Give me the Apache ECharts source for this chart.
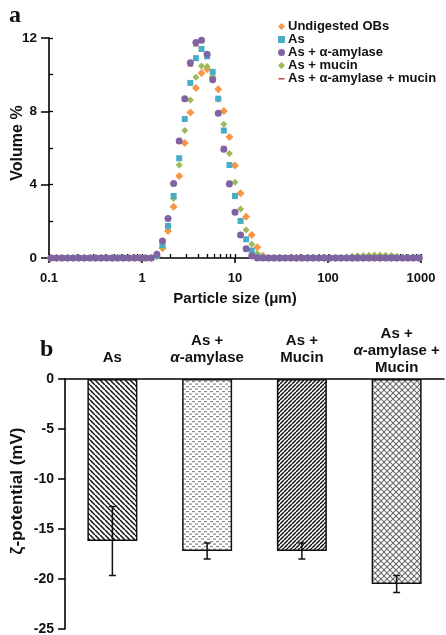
<!DOCTYPE html>
<html>
<head>
<meta charset="utf-8">
<script src="https://cdn.jsdelivr.net/npm/echarts@6/dist/echarts.min.js"></script>
<style>
html,body{margin:0;padding:0;background:#fff;}
#main{width:446px;height:635px;}
</style>
</head>
<body>
<div id="main"></div>
<script>
// ---------- Panel a: particle size distribution ----------
const sizes = [
  0.1047,0.1202,0.1380,0.1585,0.1820,0.2089,0.2399,0.2754,0.3162,0.3631,
  0.4169,0.4786,0.5495,0.6310,0.7244,0.8318,0.9550,1.096,1.259,
  1.445,1.660,1.905,2.188,2.512,2.884,3.311,3.802,4.365,5.012,
  5.754,6.607,7.586,8.710,10.00,11.48,13.18,15.14,17.38,19.95,
  22.91,26.30,30.20,34.67,39.81,45.71,52.48,60.26,69.18,79.43,
  91.20,104.7,120.2,138.0,158.5,182.0,208.9,239.9,275.4,316.2,
  363.1,416.9,478.6,549.5,631.0,724.4,831.8,955.0
];
const undigested = [
  0,0,0,0,0,0,0,0,0,0,
  0,0,0,0,0,0,0,0,0,
  0.1,0.53,1.47,2.8,4.47,6.27,7.93,9.27,10.09,10.3,
  9.85,9.2,8.02,6.6,5.05,3.53,2.25,1.25,0.58,0.12,
  0,0,0,0,0,0,0,0,0,0,
  0,0,0,0,0,0,0,0,0,0,
  0,0,0,0,0,0,0,0
];
const asOnly = [
  0,0,0,0,0,0,0,0,0,0,
  0,0,0,0,0,0,0,0,0,
  0.12,0.71,1.75,3.38,5.44,7.58,9.55,10.9,11.4,11.0,
  10.15,8.69,6.95,5.07,3.38,2.02,1.02,0.4,0.06,0,
  0,0,0,0,0,0,0,0,0,0,
  0,0,0,0,0,0,0,0,0,0,
  0,0,0,0,0,0,0,0
];
const asAmylase = [
  0,0,0,0,0,0,0,0,0,0,
  0,0,0,0,0,0,0,0,0,
  0.2,0.93,2.16,4.07,6.38,8.69,10.65,11.75,11.88,11.12,
  9.72,7.89,5.93,4.04,2.49,1.25,0.51,0.11,0,0,
  0,0,0,0,0,0,0,0,0,0,
  0,0,0,0,0,0,0,0,0,0,
  0,0,0,0,0,0,0,0
];
const asMucin = [
  0,0,0,0,0,0,0,0,0,0,
  0,0,0,0,0,0,0,0,0,
  0.1,0.62,1.71,3.25,5.07,6.95,8.62,9.86,10.47,10.45,
  9.88,8.66,7.3,5.7,4.13,2.67,1.53,0.75,0.25,0.05,
  0,0,0,0,0,0,0,0,0,0,
  0,0,0,0,0.06,0.09,0.12,0.14,0.15,0.16,
  0.16,0.15,0.13,0.1,0.07,0.04,0,0
];
const asAmylaseMucin = [
  0,0,0,0,0,0,0,0,0,0,
  0,0,0,0,0,0,0,0,0,
  0.18,0.9,2.1,4.0,6.3,8.6,10.5,11.6,11.8,11.05,
  9.7,7.95,6.05,4.15,2.55,1.3,0.55,0.13,0,0,
  0,0,0,0,0,0,0,0,0,0,
  0,0,0,0,0,0,0,0,0,0,
  0,0,0,0,0,0,0,0
];
const seriesNames = ['Undigested OBs','As','As + α-amylase','As + mucin','As + α-amylase + mucin'];
const sizeTickLabels = [0.1,1,10,100,1000];
const sizeMinorTicks = [0.1,0.2,0.3,0.4,0.5,0.6,0.7,0.8,0.9,1,2,3,4,5,6,7,8,9,10,20,30,40,50,60,70,80,90,100,200,300,400,500,600,700,800,900,1000];

// ---------- Panel b: zeta potential ----------
const zetaCategories = ['As','As +\nα-amylase','As +\nMucin','As +\nα-amylase +\nMucin'];
const zetaMeans = [-16.2,-17.2,-17.2,-20.5];
const zetaErrors = [3.45,0.8,0.8,0.85];

// ---------- styles ----------
const FONT = '"Liberation Sans", Arial, sans-serif';
const SERIF = '"Liberation Serif", "Times New Roman", serif';
const colors = ['#F79646','#4BACC6','#8064A2','#9BBB59','#C0504D'];

function makePattern(kind){
  const c = document.createElement('canvas');
  const ctx = c.getContext('2d');
  let s;
  if(kind==='back'){
    s=5; c.width=s; c.height=s;
    ctx.fillStyle='#fff'; ctx.fillRect(0,0,s,s);
    ctx.strokeStyle='#111'; ctx.lineWidth=1.5;
    for(const o of [-s,0,s]){ ctx.beginPath(); ctx.moveTo(o,0); ctx.lineTo(o+s,s); ctx.stroke(); }
  } else if(kind==='fwd'){
    s=4; c.width=s; c.height=s;
    ctx.fillStyle='#fff'; ctx.fillRect(0,0,s,s);
    ctx.strokeStyle='#111'; ctx.lineWidth=1.4;
    for(const o of [-s,0,s]){ ctx.beginPath(); ctx.moveTo(o,s); ctx.lineTo(o+s,0); ctx.stroke(); }
  } else if(kind==='dash'){
    c.width=6; c.height=5;
    ctx.fillStyle='#fff'; ctx.fillRect(0,0,6,5);
    ctx.fillStyle='#8a8a8a';
    ctx.fillRect(0,1,3,1.2);
    ctx.fillRect(3,3.5,3,1.2);
  } else {
    s=6; c.width=s; c.height=s;
    ctx.fillStyle='#fff'; ctx.fillRect(0,0,s,s);
    ctx.strokeStyle='#6a6a6a'; ctx.lineWidth=1.1;
    for(const o of [-s,0,s]){
      ctx.beginPath(); ctx.moveTo(o,0); ctx.lineTo(o+s,s); ctx.stroke();
      ctx.beginPath(); ctx.moveTo(o,s); ctx.lineTo(o+s,0); ctx.stroke();
    }
  }
  return c;
}
const patterns = [makePattern('back'), makePattern('dash'), makePattern('fwd'), makePattern('cross')];

const chart = echarts.init(document.getElementById('main'), null, {renderer:'canvas'});

function pts(vals){ return sizes.map((s,i)=>[s, vals[i]]); }

const scatterDefs = [
  {name: seriesNames[0], data: undigested, symbol:'diamond', size:8, color:colors[0], z:2},
  {name: seriesNames[3], data: asMucin, symbol:'diamond', size:7, color:colors[3], z:3},
  {name: seriesNames[1], data: asOnly, symbol:'rect', size:6, color:colors[1], z:4},
  {name: seriesNames[4], data: asAmylaseMucin, symbol:'rect', size:[5,2.5], color:colors[4], z:5},
  {name: seriesNames[2], data: asAmylase, symbol:'circle', size:7, color:colors[2], z:6}
];

const axisLineStyle = {color:'#000', width:1.6};
const labelStyle = {color:'#111', fontFamily:FONT, fontWeight:'bold'};

const option = {
  animation:false,
  backgroundColor:'#fff',
  graphic:[
    {type:'text', left:9, top:4, style:{text:'a', font:'bold 24px '+SERIF, fill:'#111'}},
    {type:'text', left:40, top:338, style:{text:'b', font:'bold 24px '+SERIF, fill:'#111'}}
  ],
  legend:{
    orient:'vertical', left:273, top:15, itemGap:0, itemWidth:7, itemHeight:7,
    textStyle:{fontFamily:FONT, fontWeight:'bold', fontSize:13, color:'#111', padding:[0,0,0,-2]},
    data:[
      {name:seriesNames[0], icon:'diamond'},
      {name:seriesNames[1], icon:'rect'},
      {name:seriesNames[2], icon:'circle'},
      {name:seriesNames[3], icon:'diamond'},
      {name:seriesNames[4], icon:'path://M0,0M0,3h6v1.6h-6zM6,7'}
    ]
  },
  grid:[
    {left:49, right:25, top:38, height:220, outerBoundsMode:'none', containLabel:false},
    {left:65, right:2, top:379, height:250, outerBoundsMode:'none', containLabel:false}
  ],
  xAxis:[
    {gridIndex:0, type:'log', logBase:10, min:0.1, max:1000,
      axisLine:{lineStyle:axisLineStyle},
      axisTick:{length:5, lineStyle:{color:'#000', width:1.5}},
      axisLabel:{...labelStyle, fontSize:13, margin:14, customValues:sizeTickLabels,
        formatter:v=>String(parseFloat(Number(v).toPrecision(6)))},
      splitLine:{show:false},
      name:'Particle size (μm)', nameLocation:'middle', nameGap:33, nameMoveOverlap:false,
      nameTextStyle:{...labelStyle, fontSize:15}
    },
    {gridIndex:0, type:'log', logBase:10, min:0.1, max:1000, position:'bottom',
      axisLine:{show:false}, axisLabel:{show:false}, splitLine:{show:false},
      axisTick:{inside:true, length:4, customValues:sizeMinorTicks, lineStyle:{color:'#000', width:1.3}}
    },
    {gridIndex:1, type:'category', position:'top', data:zetaCategories.map((c,i)=>({
        value:c, textStyle: i<3 ? {padding:[0,0,10,0]} : {}
      })),
      axisLine:{lineStyle:axisLineStyle, onZero:false},
      axisTick:{length:5, lineStyle:{color:'#000', width:1.5}},
      axisLabel:{...labelStyle, fontSize:15, lineHeight:17, margin:3, interval:0,
        formatter:v=>v.replace(/α/g,'{i|α}'),
        rich:{i:{fontStyle:'italic', fontWeight:'bold', fontFamily:FONT, fontSize:15, color:'#111'}}
      }
    }
  ],
  yAxis:[
    {gridIndex:0, type:'value', min:0, max:12, interval:4,
      axisLine:{show:true, lineStyle:axisLineStyle},
      axisTick:{show:true, length:8, lineStyle:{color:'#000', width:1.5}},
      axisLabel:{...labelStyle, fontSize:13.5, margin:12},
      splitLine:{show:false},
      name:'Volume %', nameLocation:'middle', nameGap:23, nameMoveOverlap:false,
      nameTextStyle:{...labelStyle, fontSize:16, padding:[0,0,0,10]}
    },
    {gridIndex:0, type:'value', min:0, max:12, interval:2, position:'left',
      axisLine:{show:false}, axisLabel:{show:false}, splitLine:{show:false},
      axisTick:{show:true, inside:true, length:4, lineStyle:{color:'#000', width:1.3}}
    },
    {gridIndex:1, type:'value', min:-25, max:0, interval:5,
      axisLine:{show:true, lineStyle:axisLineStyle, onZero:false},
      axisTick:{show:true, length:7, lineStyle:{color:'#000', width:1.5}},
      axisLabel:{...labelStyle, fontSize:14, margin:11},
      splitLine:{show:false},
      name:'ζ-potential (mV)', nameLocation:'middle', nameGap:39, nameMoveOverlap:false,
      nameTextStyle:{...labelStyle, fontSize:17, padding:[0,0,0,26]}
    }
  ],
  series:[
    ...scatterDefs.map(d=>({
      name:d.name, type:'scatter', xAxisIndex:0, yAxisIndex:0,
      symbol:d.symbol, symbolSize:d.size, z:d.z,
      itemStyle:{color:d.color, opacity:1},
      data:pts(d.data)
    })),
    {
      type:'bar', xAxisIndex:2, yAxisIndex:2, barWidth:50, z:2,
      data:zetaMeans.map((m,i)=>({value:m, itemStyle:{
        color:{image:patterns[i], repeat:'repeat'}, borderColor:'#111', borderWidth:1.5
      }}))
    },
    {
      type:'custom', xAxisIndex:2, yAxisIndex:2, z:5,
      data:zetaMeans.map((m,i)=>[i, m, zetaErrors[i]]),
      encode:{x:0, y:1},
      renderItem:(params, api)=>{
        const i = api.value(0), m = api.value(1), e = api.value(2);
        const hi = api.coord([i, m+e]);
        const lo = api.coord([i, m-e]);
        const x = hi[0], w = 3.5;
        const st = {stroke:'#111', lineWidth:1.5};
        return {type:'group', children:[
          {type:'line', shape:{x1:x, y1:hi[1], x2:x, y2:lo[1]}, style:st},
          {type:'line', shape:{x1:x-w, y1:hi[1], x2:x+w, y2:hi[1]}, style:st},
          {type:'line', shape:{x1:x-w, y1:lo[1], x2:x+w, y2:lo[1]}, style:st}
        ]};
      }
    }
  ]
};
chart.setOption(option);
</script>
</body>
</html>
